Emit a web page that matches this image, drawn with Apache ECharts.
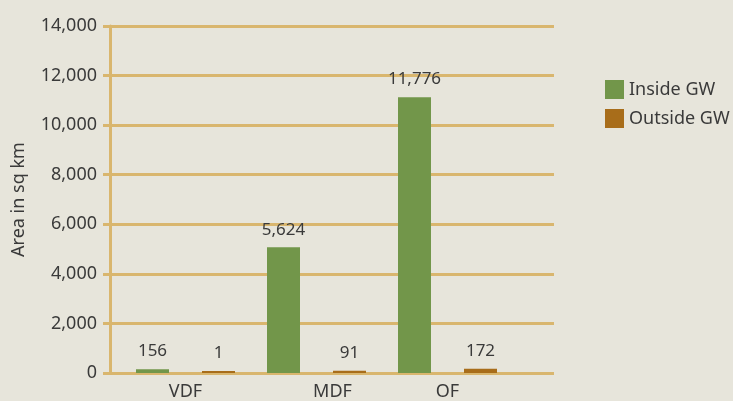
<!DOCTYPE html>
<html>
<head>
<meta charset="utf-8">
<script src="https://cdn.jsdelivr.net/npm/echarts@6/dist/echarts.min.js"></script>
<style>
html,body{margin:0;padding:0;background:#e7e5db;}
#c{width:733px;height:401px;}
</style>
</head>
<body>
<div id="c"></div>
<script>
const categories = ['VDF', 'MDF', 'OF'];
const seriesNames = ['Inside GW', 'Outside GW'];
const insideValues = [156, 5070, 11130];
const outsideValues = [1, 91, 172];
const insideLabels = ['156', '5,624', '11,776'];
const outsideLabels = ['1', '91', '172'];
const yTicks = [0, 2000, 4000, 6000, 8000, 10000, 12000, 14000];

const FONT = 'Noto Sans';
const gold = '#d9b66e';
const txt = '#3a3a3a';
const chart = echarts.init(document.getElementById('c'));
const yMin = yTicks[0], yMax = yTicks[yTicks.length - 1], yInt = yTicks[1] - yTicks[0];

chart.setOption({
  backgroundColor: '#e7e5db',
  animation: false,
  textStyle: { fontFamily: FONT },
  legend: {
    orient: 'vertical', left: 600, top: 75, icon: 'rect',
    itemWidth: 19, itemHeight: 19, itemGap: 10,
    textStyle: { fontSize: 18, color: txt, fontFamily: FONT },
    data: seriesNames
  },
  grid: [
    { left: 110, right: 179, top: 26, bottom: 28 },
    { left: 120, width: 393, top: 26, bottom: 28 }
  ],
  xAxis: [
    { type: 'category', gridIndex: 0, show: false, data: categories },
    {
      type: 'category', gridIndex: 1, data: categories,
      axisLine: { show: false }, axisTick: { show: false },
      axisLabel: {
        fontSize: 18, color: txt, margin: 10, fontFamily: FONT,
        formatter: function (v) { return v === 'MDF' ? '{m|' + v + '}' : v; },
        rich: { m: { fontSize: 18, color: txt, fontFamily: FONT, padding: [0, 0, 0, 32] } }
      }
    }
  ],
  yAxis: [
    {
      type: 'value', gridIndex: 0, min: yMin, max: yMax, interval: yInt,
      name: 'Area in sq km', nameLocation: 'middle', nameGap: 82,
      nameTextStyle: { fontSize: 18, color: txt, fontFamily: FONT },
      axisLine: { show: true, lineStyle: { color: gold, width: 3 } },
      axisTick: { show: true, length: 7, lineStyle: { color: gold, width: 3 } },
      splitLine: { show: true, lineStyle: { color: gold, width: 3 } },
      axisLabel: {
        fontSize: 18, color: txt, margin: 13, fontFamily: FONT,
        formatter: function (v) { return v.toLocaleString('en-US'); }
      }
    },
    { type: 'value', gridIndex: 1, min: yMin, max: yMax, interval: yInt, show: false, splitLine: { show: false } }
  ],
  series: [
    {
      name: seriesNames[0], type: 'bar', xAxisIndex: 1, yAxisIndex: 1,
      data: insideValues, barWidth: 33, barGap: '100%', barMinHeight: 2,
      itemStyle: { color: '#72964a' },
      label: {
        show: true, position: 'top', distance: 9, fontSize: 17, color: txt, fontFamily: FONT,
        formatter: function (p) { return insideLabels[p.dataIndex]; }
      }
    },
    {
      name: seriesNames[1], type: 'bar', xAxisIndex: 1, yAxisIndex: 1,
      data: outsideValues, barWidth: 33, barGap: '100%', barMinHeight: 2,
      itemStyle: { color: '#a86d1a' },
      label: {
        show: true, position: 'top', distance: 9, fontSize: 17, color: txt, fontFamily: FONT,
        formatter: function (p) { return outsideLabels[p.dataIndex]; }
      }
    }
  ]
});
</script>
</body>
</html>
